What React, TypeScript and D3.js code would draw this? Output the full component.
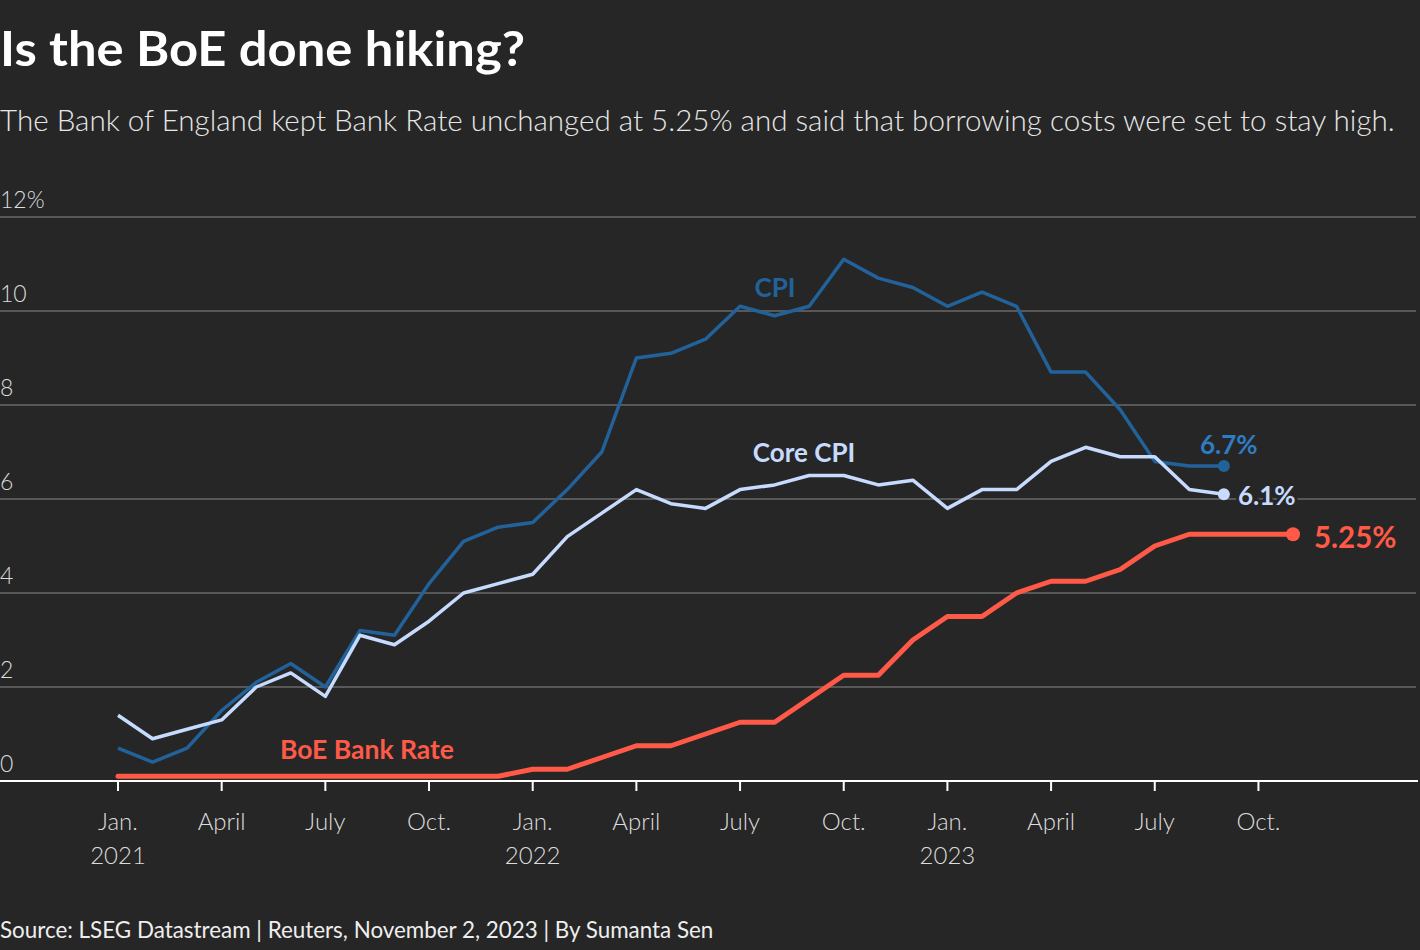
import React, { useEffect } from "react";
import * as d3 from "d3";

// Months from Jan 2021 (index 0)
const cpi = [0.7, 0.4, 0.7, 1.5, 2.1, 2.5, 2.0, 3.2, 3.1, 4.2, 5.1, 5.4,
  5.5, 6.2, 7.0, 9.0, 9.1, 9.4, 10.1, 9.9, 10.1, 11.1, 10.7, 10.5,
  10.1, 10.4, 10.1, 8.7, 8.7, 7.9, 6.8, 6.7, 6.7];
const coreCpi = [1.4, 0.9, 1.1, 1.3, 2.0, 2.3, 1.8, 3.1, 2.9, 3.4, 4.0, 4.2,
  4.4, 5.2, 5.7, 6.2, 5.9, 5.8, 6.2, 6.3, 6.5, 6.5, 6.3, 6.4,
  5.8, 6.2, 6.2, 6.8, 7.1, 6.9, 6.9, 6.2, 6.1];
const bankRate = [0.1, 0.1, 0.1, 0.1, 0.1, 0.1, 0.1, 0.1, 0.1, 0.1, 0.1, 0.1,
  0.25, 0.25, 0.5, 0.75, 0.75, 1.0, 1.25, 1.25, 1.75, 2.25, 2.25, 3.0,
  3.5, 3.5, 4.0, 4.25, 4.25, 4.5, 5.0, 5.25, 5.25, 5.25, 5.25];
const yTicks = [0, 2, 4, 6, 8, 10, 12];
const xTicks = [
  { m: 0, l1: "Jan.", l2: "2021" }, { m: 3, l1: "April", l2: "" }, { m: 6, l1: "July", l2: "" }, { m: 9, l1: "Oct.", l2: "" },
  { m: 12, l1: "Jan.", l2: "2022" }, { m: 15, l1: "April", l2: "" }, { m: 18, l1: "July", l2: "" }, { m: 21, l1: "Oct.", l2: "" },
  { m: 24, l1: "Jan.", l2: "2023" }, { m: 27, l1: "April", l2: "" }, { m: 30, l1: "July", l2: "" }, { m: 33, l1: "Oct.", l2: "" },
];

const BG = "#262626";
const FONT = "'Source Sans Pro', Lato, 'Noto Sans', sans-serif";

export default function App() {
  useEffect(() => {
    document.body.style.margin = "0";
    document.body.style.background = BG;
  }, []);

  const x = d3.scaleLinear().domain([0, 34]).range([118, 1293]);
  const y = d3.scaleLinear().domain([0, 12]).range([781, 217]);
  const line = d3.line<number>().x((_, i) => x(i)).y((d) => y(d));

  const cpiColor = "#22629a";
  const coreColor = "#c6dbfd";
  const rateColor = "#ff5a48";

  const lastCpi = cpi.length - 1;
  const lastCore = coreCpi.length - 1;
  const lastRate = bankRate.length - 1;

  return (
    <svg width={1420} height={950} style={{ position: "absolute", left: 0, top: 0, background: BG, fontFamily: FONT }}>
      <rect width={1420} height={950} fill={BG} />
      <text x={0} y={66} fill="#ffffff" fontSize={47} fontWeight={700} textLength={525} lengthAdjust="spacingAndGlyphs">Is the BoE done hiking?</text>
      <text x={0} y={131} fill="#e6e6e6" fontSize={29.6} fontWeight={300}>
        The Bank of England kept Bank Rate unchanged at 5.25% and said that borrowing costs were set to stay high.
      </text>

      {yTicks.map((t) => (
        <g key={t}>
          {t !== 0 && <line x1={0} x2={1416} y1={y(t)} y2={y(t)} stroke="#6a6a6a" strokeWidth={1.5} />}
          <text x={0} y={y(t) - 9} fill="#dcdcdc" fontSize={23} fontWeight={300}>{t === 12 ? "12%" : t}</text>
        </g>
      ))}

      {xTicks.map((t) => (
        <g key={t.m}>
          <line x1={x(t.m)} x2={x(t.m)} y1={781} y2={791} stroke="#ffffff" strokeWidth={2} />
          <text x={x(t.m)} y={830} fill="#dcdcdc" fontSize={24} fontWeight={300} textAnchor="middle">{t.l1}</text>
          {t.l2 && <text x={x(t.m)} y={864} fill="#dcdcdc" fontSize={24} fontWeight={300} textAnchor="middle">{t.l2}</text>}
        </g>
      ))}

      <path d={line(bankRate) ?? ""} fill="none" stroke={rateColor} strokeWidth={5} strokeLinejoin="round" strokeLinecap="round" />
      <line x1={0} x2={1418} y1={781} y2={781} stroke="#ffffff" strokeWidth={2} />
      <path d={line(cpi) ?? ""} fill="none" stroke={cpiColor} strokeWidth={3.5} strokeLinejoin="round" />
      <path d={line(coreCpi) ?? ""} fill="none" stroke={coreColor} strokeWidth={3.5} strokeLinejoin="round" />

      <circle cx={x(lastCpi)} cy={y(cpi[lastCpi])} r={6} fill={cpiColor} />
      <circle cx={x(lastCore)} cy={y(coreCpi[lastCore])} r={6} fill={coreColor} />
      <circle cx={x(lastRate)} cy={y(bankRate[lastRate])} r={7} fill={rateColor} />

      <text x={775} y={297} fill={cpiColor} fontSize={26} fontWeight={700} textAnchor="middle">CPI</text>
      <text x={804} y={462} fill={coreColor} fontSize={26} fontWeight={700} textAnchor="middle">Core CPI</text>
      <text x={367} y={759} fill={rateColor} fontSize={26.5} fontWeight={700} textAnchor="middle">BoE Bank Rate</text>

      <text x={1200} y={454} fill="#2e7cc2" fontSize={26} fontWeight={700}>6.7%</text>
      <text x={1238} y={505} fill={coreColor} fontSize={26} fontWeight={700} stroke={BG} strokeWidth={6} paintOrder="stroke" strokeLinejoin="round">6.1%</text>
      <text x={1314} y={548} fill={rateColor} fontSize={29.5} fontWeight={700}>5.25%</text>

      <text x={0} y={938} fill="#eeeeee" fontSize={22.4} fontWeight={400}>
        Source: LSEG Datastream | Reuters, November 2, 2023 | By Sumanta Sen
      </text>
    </svg>
  );
}
